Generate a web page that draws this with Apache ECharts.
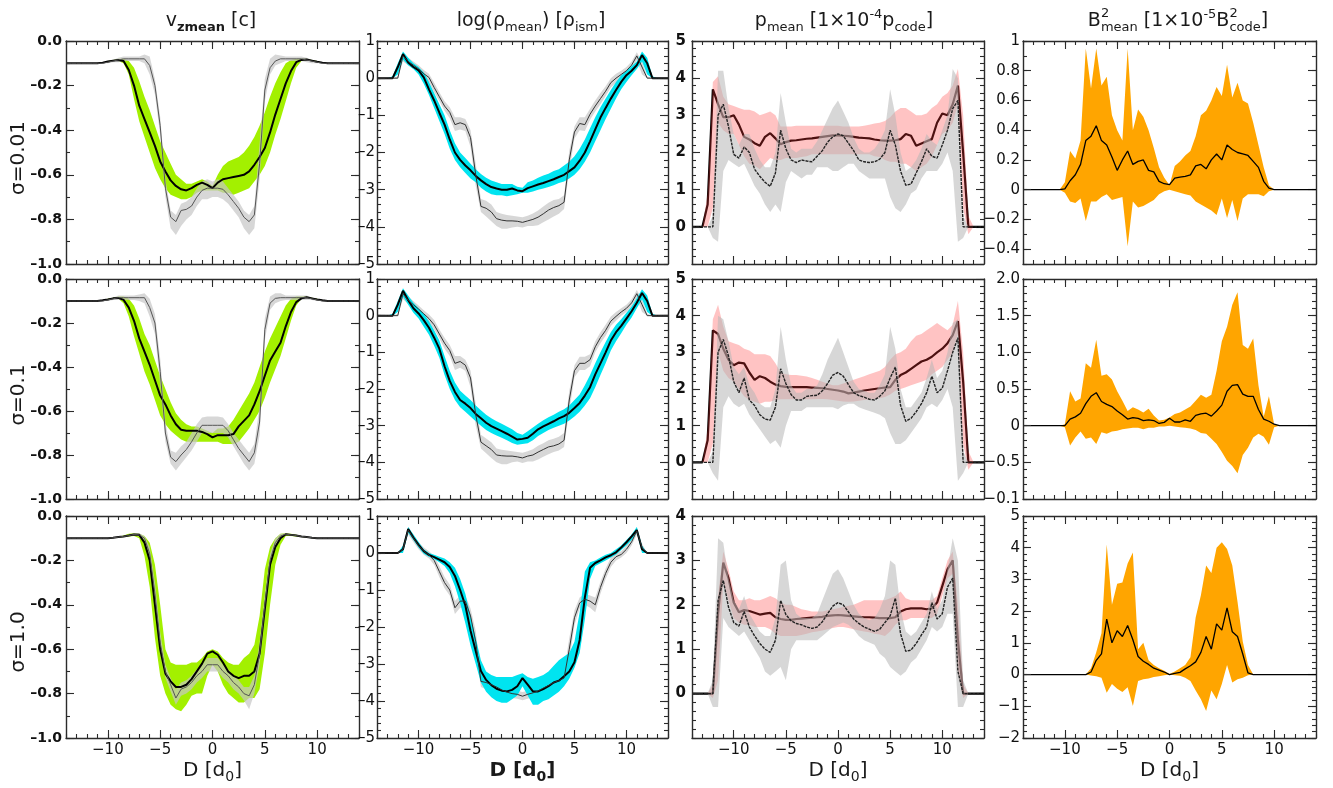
<!DOCTYPE html>
<html>
<head>
<meta charset="utf-8">
<script src="https://cdn.jsdelivr.net/npm/echarts@6/dist/echarts.min.js"></script>
<style>
html,body{margin:0;padding:0;background:#fff}
#chart{width:1333px;height:788px}
</style>
</head>
<body>
<div id="chart"></div>
<script>
// Distance along the profile, in units of d0
const D = [-14,-13.5,-13,-12.5,-12,-11.5,-11,-10.5,-10,-9.5,
  -9,-8.5,-8,-7.5,-7,-6.5,-6,-5.5,-5,-4.5,
  -4,-3.5,-3,-2.5,-2,-1.5,-1,-0.5,0,0.5,
  1,1.5,2,2.5,3,3.5,4,4.5,5,5.5,
  6,6.5,7,7.5,8,8.5,9,9.5,10,10.5,
  11,11.5,12,12.5,13,13.5,14];

// ---- v_zmean, sigma = 0.01 ----
const V1_MEAN = [-0.1,-0.1,-0.1,-0.1,-0.1,-0.1,-0.1,-0.097,-0.092,-0.088,
  -0.085,-0.09,-0.13,-0.2,-0.29,-0.35,-0.41,-0.47,-0.54,-0.585,
  -0.625,-0.65,-0.665,-0.67,-0.66,-0.645,-0.635,-0.645,-0.66,-0.635,
  -0.62,-0.615,-0.61,-0.605,-0.6,-0.585,-0.555,-0.52,-0.48,-0.41,
  -0.33,-0.26,-0.19,-0.135,-0.095,-0.085,-0.083,-0.088,-0.093,-0.097,
  -0.1,-0.1,-0.1,-0.1,-0.1,-0.1,-0.1];
const V1_HI = [-0.1,-0.1,-0.1,-0.1,-0.1,-0.1,-0.1,-0.097,-0.09,-0.085,
  -0.08,-0.08,-0.09,-0.12,-0.18,-0.25,-0.31,-0.38,-0.45,-0.5,
  -0.55,-0.6,-0.62,-0.64,-0.64,-0.63,-0.62,-0.63,-0.65,-0.6,
  -0.56,-0.54,-0.53,-0.52,-0.5,-0.47,-0.43,-0.38,-0.32,-0.25,
  -0.19,-0.14,-0.1,-0.085,-0.08,-0.08,-0.08,-0.085,-0.09,-0.097,
  -0.1,-0.1,-0.1,-0.1,-0.1,-0.1,-0.1];
const V1_LO = [-0.1,-0.1,-0.1,-0.1,-0.1,-0.1,-0.1,-0.098,-0.095,-0.09,
  -0.09,-0.1,-0.15,-0.26,-0.36,-0.43,-0.5,-0.57,-0.62,-0.66,
  -0.69,-0.7,-0.71,-0.71,-0.7,-0.68,-0.67,-0.67,-0.67,-0.67,
  -0.68,-0.68,-0.69,-0.68,-0.67,-0.66,-0.63,-0.6,-0.56,-0.5,
  -0.42,-0.35,-0.27,-0.19,-0.12,-0.09,-0.085,-0.09,-0.095,-0.098,
  -0.1,-0.1,-0.1,-0.1,-0.1,-0.1,-0.1];
const V1_GREY = [-0.1,-0.1,-0.1,-0.1,-0.1,-0.1,-0.1,-0.1,-0.095,-0.09,
  -0.085,-0.08,-0.08,-0.08,-0.08,-0.08,-0.11,-0.2,-0.38,-0.66,
  -0.79,-0.81,-0.76,-0.755,-0.74,-0.7,-0.67,-0.66,-0.66,-0.66,
  -0.665,-0.69,-0.72,-0.75,-0.79,-0.81,-0.78,-0.55,-0.22,-0.12,
  -0.09,-0.08,-0.08,-0.08,-0.08,-0.08,-0.085,-0.09,-0.095,-0.1,
  -0.1,-0.1,-0.1,-0.1,-0.1,-0.1,-0.1];
const V1_GHI = [-0.1,-0.1,-0.1,-0.1,-0.1,-0.1,-0.1,-0.1,-0.09,-0.085,
  -0.075,-0.07,-0.07,-0.07,-0.07,-0.06,-0.07,-0.17,-0.34,-0.62,
  -0.76,-0.78,-0.73,-0.72,-0.7,-0.66,-0.63,-0.62,-0.63,-0.62,
  -0.63,-0.66,-0.69,-0.72,-0.76,-0.78,-0.74,-0.46,-0.17,-0.08,
  -0.06,-0.065,-0.07,-0.07,-0.07,-0.07,-0.075,-0.085,-0.09,-0.1,
  -0.1,-0.1,-0.1,-0.1,-0.1,-0.1,-0.1];
const V1_GLO = [-0.1,-0.1,-0.1,-0.1,-0.1,-0.1,-0.1,-0.1,-0.1,-0.095,
  -0.095,-0.09,-0.09,-0.09,-0.09,-0.1,-0.15,-0.24,-0.42,-0.7,
  -0.84,-0.87,-0.83,-0.8,-0.78,-0.74,-0.71,-0.71,-0.7,-0.7,
  -0.71,-0.73,-0.76,-0.79,-0.84,-0.87,-0.84,-0.62,-0.27,-0.15,
  -0.11,-0.1,-0.09,-0.09,-0.09,-0.09,-0.095,-0.1,-0.1,-0.1,
  -0.1,-0.1,-0.1,-0.1,-0.1,-0.1,-0.1];

// ---- v_zmean, sigma = 0.1 ----
const V2_MEAN = [-0.1,-0.1,-0.1,-0.1,-0.1,-0.1,-0.1,-0.097,-0.093,-0.088,
  -0.086,-0.095,-0.13,-0.19,-0.27,-0.33,-0.39,-0.46,-0.53,-0.57,
  -0.62,-0.66,-0.685,-0.69,-0.69,-0.69,-0.695,-0.705,-0.72,-0.71,
  -0.71,-0.71,-0.705,-0.67,-0.645,-0.62,-0.57,-0.51,-0.44,-0.37,
  -0.33,-0.29,-0.215,-0.15,-0.105,-0.088,-0.083,-0.088,-0.093,-0.097,
  -0.1,-0.1,-0.1,-0.1,-0.1,-0.1,-0.1];
const V2_HI = [-0.1,-0.1,-0.1,-0.1,-0.1,-0.1,-0.1,-0.097,-0.09,-0.085,
  -0.08,-0.08,-0.09,-0.12,-0.18,-0.25,-0.3,-0.37,-0.44,-0.5,
  -0.56,-0.61,-0.64,-0.66,-0.67,-0.67,-0.68,-0.69,-0.7,-0.68,
  -0.68,-0.67,-0.64,-0.6,-0.56,-0.52,-0.47,-0.4,-0.33,-0.27,
  -0.22,-0.17,-0.12,-0.09,-0.08,-0.08,-0.08,-0.085,-0.09,-0.097,
  -0.1,-0.1,-0.1,-0.1,-0.1,-0.1,-0.1];
const V2_LO = [-0.1,-0.1,-0.1,-0.1,-0.1,-0.1,-0.1,-0.098,-0.095,-0.09,
  -0.09,-0.11,-0.17,-0.26,-0.34,-0.42,-0.48,-0.55,-0.62,-0.66,
  -0.69,-0.71,-0.73,-0.74,-0.74,-0.74,-0.74,-0.74,-0.74,-0.74,
  -0.75,-0.75,-0.75,-0.74,-0.71,-0.68,-0.64,-0.6,-0.54,-0.47,
  -0.41,-0.35,-0.27,-0.19,-0.12,-0.09,-0.085,-0.09,-0.095,-0.098,
  -0.1,-0.1,-0.1,-0.1,-0.1,-0.1,-0.1];
const V2_GREY = [-0.1,-0.1,-0.1,-0.1,-0.1,-0.1,-0.1,-0.1,-0.095,-0.09,
  -0.085,-0.085,-0.085,-0.085,-0.085,-0.085,-0.13,-0.2,-0.42,-0.7,
  -0.81,-0.83,-0.8,-0.775,-0.74,-0.7,-0.665,-0.665,-0.665,-0.665,
  -0.665,-0.69,-0.73,-0.77,-0.8,-0.83,-0.79,-0.65,-0.23,-0.11,
  -0.088,-0.085,-0.085,-0.085,-0.085,-0.085,-0.085,-0.09,-0.095,-0.1,
  -0.1,-0.1,-0.1,-0.1,-0.1,-0.1,-0.1];
const V2_GHI = [-0.1,-0.1,-0.1,-0.1,-0.1,-0.1,-0.1,-0.1,-0.09,-0.085,
  -0.075,-0.075,-0.075,-0.075,-0.07,-0.065,-0.09,-0.16,-0.36,-0.65,
  -0.78,-0.79,-0.76,-0.74,-0.7,-0.66,-0.63,-0.625,-0.625,-0.625,
  -0.63,-0.66,-0.7,-0.73,-0.76,-0.79,-0.75,-0.58,-0.18,-0.08,
  -0.065,-0.065,-0.075,-0.075,-0.075,-0.075,-0.075,-0.085,-0.09,-0.1,
  -0.1,-0.1,-0.1,-0.1,-0.1,-0.1,-0.1];
const V2_GLO = [-0.1,-0.1,-0.1,-0.1,-0.1,-0.1,-0.1,-0.1,-0.1,-0.095,
  -0.095,-0.095,-0.095,-0.095,-0.1,-0.11,-0.17,-0.25,-0.48,-0.74,
  -0.84,-0.87,-0.84,-0.81,-0.78,-0.74,-0.7,-0.7,-0.7,-0.7,
  -0.7,-0.72,-0.76,-0.8,-0.84,-0.87,-0.84,-0.71,-0.28,-0.14,
  -0.11,-0.1,-0.095,-0.095,-0.095,-0.095,-0.095,-0.095,-0.1,-0.1,
  -0.1,-0.1,-0.1,-0.1,-0.1,-0.1,-0.1];

// ---- v_zmean, sigma = 1.0 ----
const V3_MEAN = [-0.1,-0.1,-0.1,-0.1,-0.1,-0.1,-0.1,-0.1,-0.1,-0.098,
  -0.095,-0.092,-0.088,-0.083,-0.085,-0.12,-0.2,-0.4,-0.6,-0.71,
  -0.745,-0.77,-0.77,-0.76,-0.735,-0.7,-0.665,-0.62,-0.61,-0.625,
  -0.66,-0.7,-0.72,-0.73,-0.72,-0.72,-0.7,-0.62,-0.42,-0.22,
  -0.14,-0.1,-0.082,-0.085,-0.088,-0.092,-0.095,-0.098,-0.1,-0.1,
  -0.1,-0.1,-0.1,-0.1,-0.1,-0.1,-0.1];
const V3_HI = [-0.1,-0.1,-0.1,-0.1,-0.1,-0.1,-0.1,-0.1,-0.1,-0.098,
  -0.093,-0.088,-0.08,-0.078,-0.08,-0.09,-0.12,-0.22,-0.4,-0.6,
  -0.66,-0.67,-0.67,-0.67,-0.66,-0.66,-0.64,-0.61,-0.6,-0.61,
  -0.64,-0.66,-0.67,-0.67,-0.64,-0.62,-0.58,-0.45,-0.24,-0.14,
  -0.1,-0.08,-0.078,-0.08,-0.085,-0.09,-0.093,-0.098,-0.1,-0.1,
  -0.1,-0.1,-0.1,-0.1,-0.1,-0.1,-0.1];
const V3_LO = [-0.1,-0.1,-0.1,-0.1,-0.1,-0.1,-0.1,-0.1,-0.1,-0.099,
  -0.097,-0.095,-0.092,-0.09,-0.1,-0.18,-0.32,-0.55,-0.72,-0.8,
  -0.85,-0.87,-0.88,-0.85,-0.81,-0.8,-0.8,-0.72,-0.67,-0.7,
  -0.76,-0.8,-0.82,-0.84,-0.84,-0.82,-0.82,-0.78,-0.62,-0.4,
  -0.22,-0.13,-0.09,-0.09,-0.092,-0.095,-0.097,-0.099,-0.1,-0.1,
  -0.1,-0.1,-0.1,-0.1,-0.1,-0.1,-0.1];
const V3_GREY = [-0.1,-0.1,-0.1,-0.1,-0.1,-0.1,-0.1,-0.1,-0.1,-0.098,
  -0.095,-0.092,-0.088,-0.083,-0.085,-0.1,-0.17,-0.35,-0.57,-0.7,
  -0.76,-0.82,-0.78,-0.77,-0.75,-0.72,-0.7,-0.67,-0.67,-0.67,
  -0.7,-0.72,-0.75,-0.77,-0.8,-0.81,-0.76,-0.62,-0.4,-0.2,
  -0.12,-0.09,-0.082,-0.085,-0.088,-0.092,-0.095,-0.098,-0.1,-0.1,
  -0.1,-0.1,-0.1,-0.1,-0.1,-0.1,-0.1];
const V3_GHI = [-0.1,-0.1,-0.1,-0.1,-0.1,-0.1,-0.1,-0.1,-0.1,-0.098,
  -0.093,-0.09,-0.085,-0.078,-0.078,-0.09,-0.14,-0.3,-0.52,-0.67,
  -0.73,-0.78,-0.75,-0.74,-0.72,-0.69,-0.67,-0.64,-0.64,-0.64,
  -0.67,-0.69,-0.72,-0.74,-0.77,-0.77,-0.72,-0.57,-0.35,-0.17,
  -0.1,-0.08,-0.078,-0.082,-0.086,-0.09,-0.093,-0.098,-0.1,-0.1,
  -0.1,-0.1,-0.1,-0.1,-0.1,-0.1,-0.1];
const V3_GLO = [-0.1,-0.1,-0.1,-0.1,-0.1,-0.1,-0.1,-0.1,-0.1,-0.099,
  -0.097,-0.094,-0.09,-0.088,-0.092,-0.11,-0.2,-0.4,-0.62,-0.73,
  -0.79,-0.85,-0.81,-0.8,-0.78,-0.75,-0.73,-0.7,-0.7,-0.7,
  -0.73,-0.75,-0.78,-0.8,-0.83,-0.87,-0.8,-0.67,-0.45,-0.23,
  -0.14,-0.1,-0.086,-0.088,-0.09,-0.094,-0.097,-0.099,-0.1,-0.1,
  -0.1,-0.1,-0.1,-0.1,-0.1,-0.1,-0.1];

// ---- log(rho_mean), sigma = 0.01 ----
const R1_MEAN = [0,0,0,0,0.3,0.65,0.42,0.3,0.21,0.02,
  -0.3,-0.6,-0.93,-1.25,-1.65,-2.0,-2.2,-2.35,-2.48,-2.63,
  -2.75,-2.85,-2.93,-2.97,-3.0,-3.0,-2.97,-3.02,-3.04,-2.96,
  -2.91,-2.86,-2.82,-2.77,-2.72,-2.66,-2.6,-2.5,-2.4,-2.22,
  -2.0,-1.7,-1.38,-1.06,-0.8,-0.55,-0.32,-0.1,0.08,0.2,
  0.35,0.62,0.4,0,0,0,0];
const R1_HI = [0,0,0,0.05,0.4,0.72,0.55,0.4,0.3,0.15,
  -0.1,-0.4,-0.7,-1.0,-1.4,-1.75,-2.0,-2.15,-2.3,-2.45,
  -2.58,-2.68,-2.75,-2.8,-2.85,-2.85,-2.85,-2.92,-2.95,-2.8,
  -2.75,-2.68,-2.62,-2.57,-2.5,-2.45,-2.35,-2.25,-2.1,-1.9,
  -1.65,-1.35,-1.05,-0.78,-0.55,-0.32,-0.1,0.08,0.2,0.32,
  0.45,0.72,0.55,0.05,0,0,0];
const R1_LO = [0,0,0,0,0.1,0.5,0.35,0.25,0.1,-0.15,
  -0.45,-0.8,-1.15,-1.5,-1.9,-2.2,-2.4,-2.55,-2.7,-2.8,
  -2.95,-3.05,-3.12,-3.15,-3.15,-3.18,-3.15,-3.12,-3.08,-3.08,
  -3.05,-3.0,-2.97,-2.93,-2.88,-2.82,-2.78,-2.7,-2.6,-2.45,
  -2.25,-2.0,-1.7,-1.4,-1.1,-0.82,-0.55,-0.3,-0.1,0.08,
  0.25,0.45,0.1,0,0,0,0];
const R1_GREY = [0,0,0,0,0,0.6,0.45,0.35,0.25,0.12,
  0.02,-0.25,-0.5,-0.75,-0.92,-1.25,-1.2,-1.25,-1.6,-2.6,
  -3.45,-3.5,-3.6,-3.78,-3.82,-3.84,-3.84,-3.85,-3.88,-3.84,
  -3.8,-3.74,-3.65,-3.55,-3.48,-3.43,-3.34,-2.2,-1.45,-1.22,
  -1.25,-0.97,-0.75,-0.55,-0.35,-0.12,0.0,0.1,0.2,0.35,
  0.6,0.3,0,0,0,0,0];
const R1_GHI = [0,0,0,0,0.05,0.7,0.55,0.45,0.35,0.22,
  0.12,-0.12,-0.38,-0.62,-0.78,-1.05,-1.05,-1.1,-1.4,-2.3,
  -3.25,-3.3,-3.4,-3.6,-3.65,-3.68,-3.7,-3.72,-3.74,-3.7,
  -3.64,-3.56,-3.45,-3.35,-3.28,-3.25,-3.15,-1.95,-1.3,-1.05,
  -1.05,-0.82,-0.6,-0.4,-0.22,0.0,0.12,0.2,0.3,0.45,
  0.7,0.45,0.05,0,0,0,0];
const R1_GLO = [0,0,0,0,0,0.45,0.35,0.25,0.15,0.02,
  -0.1,-0.38,-0.62,-0.88,-1.08,-1.42,-1.38,-1.42,-1.85,-2.9,
  -3.6,-3.72,-3.85,-3.98,-4.05,-4.05,-4.02,-4.0,-4.02,-3.98,
  -3.98,-3.96,-3.88,-3.8,-3.72,-3.65,-3.52,-2.5,-1.62,-1.4,
  -1.42,-1.12,-0.9,-0.7,-0.48,-0.25,-0.12,0.0,0.1,0.25,
  0.48,0.1,0,0,0,0,0];

// ---- log(rho_mean), sigma = 0.1 ----
const R2_MEAN = [0,0,0,0,0.3,0.68,0.42,0.2,0.06,-0.12,
  -0.33,-0.6,-0.9,-1.38,-1.78,-2.08,-2.3,-2.4,-2.52,-2.68,
  -2.8,-2.92,-3.01,-3.08,-3.15,-3.22,-3.3,-3.38,-3.36,-3.33,
  -3.22,-3.1,-3.02,-2.95,-2.88,-2.8,-2.74,-2.65,-2.52,-2.38,
  -2.18,-1.95,-1.6,-1.3,-1.0,-0.68,-0.45,-0.28,-0.08,0.12,
  0.35,0.62,0.4,0,0,0,0];
const R2_HI = [0,0,0,0.05,0.4,0.75,0.55,0.35,0.2,0.05,
  -0.15,-0.4,-0.68,-1.1,-1.5,-1.82,-2.05,-2.18,-2.3,-2.45,
  -2.58,-2.7,-2.8,-2.88,-2.95,-3.02,-3.1,-3.2,-3.25,-3.15,
  -3.05,-2.95,-2.85,-2.77,-2.7,-2.62,-2.55,-2.45,-2.3,-2.15,
  -1.9,-1.62,-1.3,-1.0,-0.72,-0.45,-0.25,-0.1,0.08,0.25,
  0.48,0.72,0.55,0.05,0,0,0];
const R2_LO = [0,0,0,0,0.1,0.52,0.3,0.08,-0.08,-0.3,
  -0.52,-0.82,-1.15,-1.62,-2.0,-2.3,-2.5,-2.62,-2.75,-2.88,
  -3.0,-3.12,-3.2,-3.27,-3.33,-3.4,-3.47,-3.52,-3.5,-3.48,
  -3.4,-3.28,-3.2,-3.12,-3.06,-3.0,-2.95,-2.86,-2.75,-2.62,
  -2.45,-2.25,-1.95,-1.62,-1.3,-0.95,-0.7,-0.48,-0.25,-0.05,
  0.2,0.45,0.1,0,0,0,0];
const R2_GREY = [0,0,0,0,0,0.6,0.42,0.3,0.18,0.05,
  -0.08,-0.25,-0.5,-0.75,-0.95,-1.3,-1.25,-1.35,-1.7,-2.7,
  -3.45,-3.55,-3.65,-3.8,-3.82,-3.83,-3.83,-3.85,-3.88,-3.83,
  -3.8,-3.72,-3.65,-3.58,-3.55,-3.5,-3.4,-2.3,-1.5,-1.3,
  -1.3,-1.2,-0.85,-0.6,-0.4,-0.15,-0.02,0.1,0.2,0.35,
  0.6,0.3,0,0,0,0,0];
const R2_GHI = [0,0,0,0,0.05,0.7,0.52,0.4,0.28,0.15,
  0.03,-0.12,-0.38,-0.6,-0.8,-1.1,-1.1,-1.2,-1.5,-2.4,
  -3.25,-3.35,-3.45,-3.62,-3.66,-3.68,-3.7,-3.72,-3.74,-3.7,
  -3.64,-3.55,-3.48,-3.4,-3.36,-3.3,-3.2,-2.05,-1.35,-1.12,
  -1.12,-1.05,-0.7,-0.45,-0.25,-0.02,0.1,0.2,0.3,0.45,
  0.7,0.45,0.05,0,0,0,0];
const R2_GLO = [0,0,0,0,0,0.45,0.32,0.2,0.08,-0.05,
  -0.18,-0.38,-0.62,-0.9,-1.1,-1.48,-1.42,-1.5,-1.95,-3.0,
  -3.62,-3.75,-3.88,-4.0,-4.05,-4.05,-4.0,-3.98,-4.02,-3.98,
  -3.98,-3.92,-3.85,-3.78,-3.72,-3.68,-3.58,-2.6,-1.68,-1.48,
  -1.48,-1.38,-1.0,-0.75,-0.55,-0.28,-0.14,0.0,0.1,0.25,
  0.48,0.1,0,0,0,0,0];

// ---- log(rho_mean), sigma = 1.0 ----
const R3_MEAN = [0,0,0,0,0,0.1,0.65,0.42,0.22,0.05,
  -0.05,-0.11,-0.18,-0.25,-0.38,-0.62,-1.0,-1.42,-2.1,-2.65,
  -3.19,-3.43,-3.57,-3.67,-3.72,-3.74,-3.7,-3.6,-3.38,-3.56,
  -3.74,-3.74,-3.68,-3.6,-3.5,-3.45,-3.33,-3.2,-2.95,-2.35,
  -1.2,-0.4,-0.27,-0.2,-0.12,-0.06,0.02,0.15,0.29,0.45,
  0.62,0.1,0,0,0,0,0];
const R3_HI = [0,0,0,0,0,0.2,0.7,0.5,0.3,0.1,
  0,-0.05,-0.1,-0.15,-0.25,-0.4,-0.7,-1.1,-1.7,-2.3,
  -2.9,-3.2,-3.3,-3.35,-3.35,-3.35,-3.35,-3.3,-3.25,-3.35,
  -3.4,-3.35,-3.3,-3.2,-3.05,-2.9,-2.8,-2.7,-2.4,-1.6,
  -0.5,-0.25,-0.2,-0.12,-0.05,0,0.1,0.2,0.35,0.5,
  0.7,0.2,0,0,0,0,0];
const R3_LO = [0,0,0,0,0,0,0.55,0.35,0.15,-0.02,
  -0.1,-0.16,-0.25,-0.35,-0.55,-0.9,-1.35,-1.9,-2.5,-3.0,
  -3.5,-3.75,-3.9,-4.0,-4.05,-4.05,-3.95,-3.85,-3.6,-3.85,
  -4.1,-4.1,-4.0,-3.95,-3.85,-3.75,-3.6,-3.4,-3.1,-2.7,
  -1.8,-0.7,-0.35,-0.28,-0.2,-0.12,-0.04,0.08,0.2,0.35,
  0.55,0,0,0,0,0,0];
const R3_GREY = [0,0,0,0,0,0.1,0.62,0.4,0.2,0.05,
  -0.05,-0.2,-0.5,-0.8,-1.0,-1.48,-1.3,-1.3,-1.7,-2.4,
  -3.47,-3.5,-3.56,-3.62,-3.7,-3.76,-3.8,-3.82,-3.87,-3.82,
  -3.78,-3.73,-3.65,-3.58,-3.5,-3.45,-3.38,-2.6,-1.75,-1.35,
  -1.25,-1.3,-1.4,-0.93,-0.55,-0.25,-0.1,-0.04,0.1,0.3,
  0.6,0.15,0,0,0,0,0];
const R3_GHI = [0,0,0,0,0,0.15,0.7,0.5,0.3,0.15,
  0.05,-0.08,-0.35,-0.65,-0.85,-1.3,-1.15,-1.15,-1.5,-2.1,
  -3.3,-3.35,-3.42,-3.5,-3.58,-3.65,-3.7,-3.72,-3.76,-3.72,
  -3.66,-3.6,-3.52,-3.45,-3.36,-3.3,-3.2,-2.3,-1.55,-1.2,
  -1.1,-1.15,-1.2,-0.78,-0.42,-0.12,0.0,0.05,0.2,0.4,
  0.7,0.25,0,0,0,0,0];
const R3_GLO = [0,0,0,0,0,0.05,0.5,0.3,0.1,-0.05,
  -0.15,-0.32,-0.65,-0.95,-1.15,-1.65,-1.48,-1.48,-1.95,-2.7,
  -3.62,-3.68,-3.72,-3.76,-3.84,-3.9,-3.92,-3.94,-3.98,-3.94,
  -3.9,-3.86,-3.8,-3.72,-3.65,-3.6,-3.55,-2.9,-1.95,-1.5,
  -1.4,-1.48,-1.6,-1.1,-0.7,-0.38,-0.2,-0.12,0.0,0.2,
  0.5,0.05,0,0,0,0,0];

// ---- p_mean, sigma = 0.01 ----
const P1_MEAN = [0,0,0,0.6,3.7,3.3,2.95,2.95,3.0,2.75,
  2.42,2.35,2.25,2.18,2.42,2.52,2.38,2.22,2.28,2.32,
  2.33,2.35,2.37,2.38,2.4,2.42,2.44,2.46,2.46,2.45,
  2.44,2.42,2.4,2.39,2.38,2.35,2.33,2.32,2.32,2.33,
  2.36,2.5,2.45,2.18,2.24,2.3,2.36,2.8,3.05,3.0,
  3.3,3.8,2.0,0,0,0,0];
const P1_HI = [0,0,0,0.9,3.9,4.05,3.5,3.3,3.25,3.2,
  3.15,3.15,3.1,3.0,3.05,3.1,3.0,2.7,2.7,2.7,
  2.72,2.72,2.72,2.72,2.72,2.72,2.72,2.72,2.72,2.7,
  2.7,2.7,2.7,2.72,2.75,2.78,2.8,2.85,2.95,3.1,
  3.2,3.2,3.1,3.0,3.0,3.05,3.2,3.3,3.5,3.6,
  3.8,4.25,3.0,0.3,0,0,0];
const P1_LO = [0,0,0,0,0.5,2.8,2.6,2.5,2.5,2.2,
  1.9,1.7,1.65,1.55,1.7,1.85,1.8,1.8,1.85,1.85,
  1.85,1.88,1.9,1.95,1.95,1.95,1.95,1.95,1.95,1.95,
  1.95,1.95,1.95,1.95,1.95,1.9,1.88,1.8,1.75,1.75,
  1.7,1.7,1.6,1.5,1.6,1.7,1.9,2.2,2.5,2.6,
  2.8,3.3,0.5,-0.2,0,0,0];
const P1_GREY = [0,0,0,0,0,3.0,3.3,2.7,1.95,1.85,
  2.15,2.0,1.55,1.36,1.2,1.09,1.45,2.6,2.1,1.8,
  1.73,1.8,1.77,1.75,1.9,2.05,2.28,2.42,2.5,2.45,
  2.25,2.05,1.8,1.75,1.73,1.75,1.82,2.0,2.6,2.2,
  1.5,1.12,1.15,1.45,1.75,2.1,1.9,1.85,2.2,2.6,
  3.18,3.4,0,0,0,0,0];
const P1_GHI = [0,0,0,0,0.3,4.2,4.2,3.2,2.5,2.2,
  2.5,2.5,2.1,1.8,1.6,1.6,2.0,3.6,2.8,2.1,
  2.0,2.1,2.1,2.1,2.3,2.6,2.9,3.2,3.4,3.1,
  2.8,2.4,2.1,2.0,2.0,2.1,2.3,2.6,3.7,3.0,
  2.0,1.5,1.6,1.8,2.1,2.5,2.3,2.2,2.6,3.0,
  4.25,4.0,0.3,0,0,0,0];
const P1_GLO = [0,0,0,0,-0.3,-0.4,1.5,1.8,1.7,1.6,
  1.7,1.4,1.1,0.9,0.6,0.4,0.6,0.4,1.2,1.5,
  1.4,1.3,1.4,1.4,1.6,1.6,1.6,1.5,1.5,1.6,
  1.7,1.7,1.5,1.4,1.3,1.3,1.3,1.3,0.8,0.5,
  0.4,0.6,0.9,1.0,1.3,1.5,1.5,1.5,1.7,2.0,
  1.5,-0.4,-0.3,0,0,0,0];

// ---- p_mean, sigma = 0.1 ----
const P2_MEAN = [0,0,0,0.6,3.6,3.5,3.1,2.8,2.65,2.72,
  2.7,2.45,2.25,2.35,2.3,2.2,2.12,2.08,2.06,2.05,
  2.05,2.05,2.05,2.04,2.03,2.02,2.0,1.98,1.96,1.93,
  1.88,1.9,1.93,1.96,1.98,2.0,2.02,2.04,2.05,2.25,
  2.38,2.45,2.55,2.65,2.75,2.8,2.88,3.0,3.1,3.25,
  3.47,3.85,2.2,0,0,0,0];
const P2_HI = [0,0,0,0.9,3.9,4.3,3.7,3.3,3.25,3.2,
  3.1,3.05,2.95,2.95,2.95,2.9,2.7,2.45,2.4,2.38,
  2.38,2.36,2.34,2.3,2.25,2.2,2.15,2.1,2.1,2.15,
  2.2,2.25,2.3,2.35,2.4,2.45,2.5,2.6,2.8,2.95,
  3.0,3.1,3.3,3.45,3.5,3.6,3.7,3.8,3.7,3.6,
  3.75,4.4,3.0,0.3,0,0,0];
const P2_LO = [0,0,0,0,0.5,3.0,2.5,2.3,2.2,2.0,
  1.8,1.7,1.65,1.6,1.65,1.65,1.7,1.72,1.72,1.72,
  1.72,1.72,1.72,1.72,1.73,1.73,1.72,1.7,1.68,1.66,
  1.65,1.66,1.68,1.7,1.72,1.73,1.75,1.78,1.85,1.95,
  2.0,2.05,2.1,2.15,2.2,2.25,2.4,2.5,2.6,2.8,
  3.0,3.5,0.5,-0.2,0,0,0];
const P2_GREY = [0,0,0,0,0,3.0,3.35,2.9,2.2,1.9,
  2.3,1.7,1.55,1.3,1.18,1.15,1.5,2.55,2.15,1.85,
  1.7,1.7,1.8,1.82,1.83,1.95,2.15,2.38,2.45,2.35,
  2.12,1.9,1.82,1.78,1.72,1.7,1.8,1.95,2.3,2.6,
  1.55,1.12,1.2,1.38,1.6,1.9,2.35,1.9,2.02,2.5,
  3.0,3.4,0,0,0,0,0];
const P2_GHI = [0,0,0,0,0.3,4.0,3.9,3.3,2.6,2.4,
  2.6,2.1,1.9,1.6,1.5,1.5,2.0,3.7,2.8,2.1,
  1.9,1.9,2.0,2.0,2.1,2.4,2.8,3.1,3.4,3.0,
  2.6,2.2,2.0,1.95,1.9,1.9,2.1,2.4,3.7,3.1,
  2.0,1.5,1.5,1.7,1.9,2.3,2.8,2.3,2.5,3.0,
  3.8,3.9,0.3,0,0,0,0];
const P2_GLO = [0,0,0,0,-0.3,-0.5,1.5,1.8,1.6,1.5,
  1.6,1.3,1.1,0.9,0.7,0.5,0.6,0.4,1.0,1.4,
  1.4,1.4,1.5,1.5,1.5,1.5,1.5,1.5,1.45,1.55,
  1.6,1.6,1.5,1.45,1.4,1.35,1.3,1.2,0.8,0.5,
  0.5,0.6,0.8,1.0,1.2,1.5,1.6,1.5,1.7,2.0,
  1.5,-0.5,-0.3,0,0,0,0];

// ---- p_mean, sigma = 1.0 ----
const P3_MEAN = [0,0,0,0,0,1.8,2.95,2.6,2.05,1.83,
  1.88,1.86,1.82,1.78,1.8,1.82,1.72,1.68,1.66,1.66,
  1.68,1.69,1.7,1.71,1.72,1.73,1.75,1.76,1.77,1.76,
  1.75,1.74,1.73,1.72,1.72,1.71,1.7,1.7,1.7,1.72,
  1.85,1.9,1.92,1.92,1.92,1.9,1.92,2.05,2.42,2.8,
  3.0,1.2,0,0,0,0,0];
const P3_HI = [0,0,0,0,0.2,2.2,3.2,2.8,2.3,2.1,
  2.1,2.15,2.1,2.1,2.15,2.2,2.15,2.05,2.0,2.0,
  1.95,1.9,1.88,1.85,1.85,1.85,1.88,1.9,1.92,1.95,
  1.98,2.0,2.05,2.1,2.1,2.1,2.1,2.1,2.15,2.2,
  2.3,2.15,2.1,2.1,2.1,2.1,2.1,2.2,2.6,3.0,
  3.2,2.0,0.2,0,0,0,0];
const P3_LO = [0,0,0,0,-0.1,0.3,2.5,2.1,1.7,1.6,
  1.55,1.55,1.5,1.5,1.5,1.45,1.35,1.3,1.3,1.3,
  1.3,1.32,1.35,1.38,1.4,1.42,1.45,1.48,1.5,1.5,
  1.48,1.45,1.42,1.4,1.38,1.35,1.33,1.3,1.4,1.55,
  1.65,1.65,1.7,1.7,1.7,1.7,1.7,1.8,2.2,2.6,
  2.7,0.5,-0.1,0,0,0,0];
const P3_GREY = [0,0,0,0,0,2.1,2.55,1.95,1.6,1.52,
  1.85,1.5,1.3,1.13,1.0,0.93,1.2,2.1,1.78,1.64,
  1.58,1.55,1.5,1.47,1.5,1.62,1.8,1.97,2.05,2.0,
  1.84,1.68,1.58,1.5,1.45,1.4,1.45,1.6,1.75,2.15,
  1.35,0.95,0.98,1.13,1.32,1.5,2.05,1.68,1.8,2.4,
  2.6,0.5,0,0,0,0,0];
const P3_GHI = [0,0,0,0,0.3,3.5,3.4,2.6,2.1,1.9,
  2.2,1.8,1.6,1.4,1.3,1.3,1.7,2.9,3.0,2.1,
  1.8,1.7,1.7,1.7,1.8,2.1,2.4,2.7,2.8,2.6,
  2.3,2.0,1.8,1.7,1.65,1.7,1.9,2.2,3.0,2.9,
  1.9,1.4,1.3,1.4,1.6,1.8,2.3,1.9,2.1,2.8,
  3.5,3.0,0.3,0,0,0,0];
const P3_GLO = [0,0,0,0,-0.3,-0.3,1.7,1.5,1.4,1.3,
  1.4,1.2,1.0,0.8,0.5,0.4,0.5,0.6,0.3,1.0,
  1.2,1.2,1.2,1.2,1.2,1.3,1.4,1.5,1.55,1.6,
  1.55,1.45,1.3,1.2,1.15,1.1,0.9,0.8,0.6,0.5,
  0.4,0.5,0.7,0.8,1.0,1.2,1.5,1.4,1.5,1.8,
  1.8,-0.3,-0.3,0,0,0,0];

// ---- B^2_mean, sigma = 0.01 ----
const B1_MEAN = [0,0,0,0,0,0,0,0,0.005,0.06,
  0.1,0.17,0.33,0.36,0.43,0.33,0.3,0.22,0.13,0.2,
  0.26,0.17,0.19,0.2,0.13,0.12,0.056,0.04,0.034,0.078,
  0.085,0.09,0.1,0.16,0.17,0.14,0.2,0.24,0.2,0.3,
  0.27,0.25,0.24,0.23,0.19,0.15,0.056,0.01,0,0,
  0,0,0,0,0,0,0];
const B1_HI = [0,0,0,0,0,0,0,0,0.05,0.26,
  0.21,0.33,0.95,0.68,0.95,0.7,0.76,0.5,0.4,0.33,
  0.95,0.4,0.54,0.49,0.4,0.28,0.15,0.08,0.03,0.16,
  0.19,0.23,0.26,0.36,0.5,0.53,0.6,0.69,0.63,0.84,
  0.62,0.72,0.6,0.58,0.45,0.3,0.15,0.03,0,0,
  0,0,0,0,0,0,0];
const B1_LO = [0,0,0,0,0,0,0,0,-0.02,-0.08,
  -0.09,-0.06,-0.21,-0.08,-0.08,-0.05,-0.03,-0.07,-0.06,-0.05,
  -0.38,-0.08,-0.12,-0.11,-0.09,-0.07,-0.03,-0.01,0,-0.01,
  -0.02,-0.03,-0.04,-0.08,-0.1,-0.12,-0.14,-0.17,-0.06,-0.19,
  -0.07,-0.21,-0.06,-0.03,-0.03,-0.03,-0.045,-0.01,0,0,
  0,0,0,0,0,0,0];

// ---- B^2_mean, sigma = 0.1 ----
const B2_MEAN = [0,0,0,0,0,0,0,0,0,0.09,
  0.12,0.17,0.3,0.4,0.45,0.33,0.29,0.26,0.2,0.15,
  0.09,0.11,0.1,0.07,0.08,0.07,0.03,0.045,0.1,0.05,
  0.05,0.08,0.06,0.14,0.16,0.17,0.13,0.2,0.28,0.47,
  0.55,0.56,0.43,0.4,0.4,0.22,0.09,0.06,0.02,0,
  0,0,0,0,0,0,0];
const B2_HI = [0,0,0,0,0,0,0,0,0.02,0.47,
  0.33,0.37,0.85,0.79,1.17,0.68,0.7,0.63,0.47,0.34,
  0.2,0.25,0.22,0.18,0.23,0.14,0.07,0.08,0.11,0.16,
  0.18,0.22,0.26,0.34,0.42,0.38,0.42,0.75,1.15,1.35,
  1.65,1.82,1.1,1.05,1.19,0.55,0.12,0.4,0.02,0,
  0,0,0,0,0,0,0];
const B2_LO = [0,0,0,0,0,0,0,0,-0.02,-0.27,
  -0.16,-0.08,-0.18,-0.16,-0.25,-0.09,-0.11,-0.08,-0.07,-0.05,
  -0.04,-0.03,-0.03,-0.05,-0.03,-0.03,-0.01,-0.01,0,-0.01,
  -0.02,-0.03,-0.04,-0.06,-0.1,-0.11,-0.18,-0.25,-0.36,-0.48,
  -0.55,-0.65,-0.4,-0.3,-0.16,-0.11,-0.15,-0.26,-0.02,0,
  0,0,0,0,0,0,0];

// ---- B^2_mean, sigma = 1.0 ----
const B3_MEAN = [0,0,0,0,0,0,0,0,0,0,
  0,0,0,0.08,0.45,0.65,1.75,1.0,1.38,1.2,
  1.55,1.1,0.57,0.42,0.32,0.2,0.14,0.08,0,0.04,
  0.07,0.18,0.28,0.4,0.7,1.2,0.8,1.6,1.4,2.1,
  1.35,1.2,0.65,0.05,0,0,0,0,0,0,
  0,0,0,0,0,0,0];
const B3_HI = [0,0,0,0,0,0,0,0,0,0,
  0,0,0,0.2,0.7,1.3,4.1,2.2,2.86,2.9,
  3.5,3.85,0.8,1.0,0.45,0.3,0.2,0.12,0.02,0.1,
  0.2,0.3,0.55,1.8,2.5,3.44,3.2,4.0,4.17,3.96,
  3.44,2.3,1.04,0.3,0,0,0,0,0,0,
  0,0,0,0,0,0,0];
const B3_LO = [0,0,0,0,0,0,0,0,0,0,
  0,0,0,-0.03,-0.05,-0.1,-0.57,-0.3,-0.45,-0.55,
  -0.4,-0.99,-0.2,-0.15,-0.12,-0.08,-0.05,-0.02,0,-0.02,
  -0.04,-0.1,-0.2,-0.5,-0.78,-1.15,-0.5,-0.78,-0.3,0.3,
  -0.25,-0.15,-0.1,-0.02,0,0,0,0,0,0,
  0,0,0,0,0,0,0];

// ---- tick positions and tick labels ----
const X_TICKS = [-10, -5, 0, 5, 10];
const X_LABELS = ['\u221210', '\u22125', '0', '5', '10'];
const V_TICKS = [-1, -0.8, -0.6, -0.4, -0.2, 0];
const V_LABELS = ['\u20131.0', '\u20130.8', '\u20130.6', '\u20130.4', '\u20130.2', '0.0'];
const R_TICKS = [-5, -4, -3, -2, -1, 0, 1];
const R_LABELS = ['\u20135', '\u20134', '\u20133', '\u20132', '\u20131', '0', '1'];
const P_TICKS = [0, 1, 2, 3, 4, 5];
const P_LABELS = ['0', '1', '2', '3', '4', '5'];
const P3_TICKS = [0, 1, 2, 3, 4];
const P3_LABELS = ['0', '1', '2', '3', '4'];
const B1_TICKS = [-0.4, -0.2, 0, 0.2, 0.4, 0.6, 0.8, 1];
const B1_LABELS = ['\u22120.4', '\u22120.2', '0', '0.2', '0.4', '0.6', '0.8', '1'];
const B2_TICKS = [-1, -0.5, 0, 0.5, 1, 1.5, 2];
const B2_LABELS = ['\u22120.1', '\u22120.5', '0', '0.5', '1.0', '1.5', '2.0'];
const B3_TICKS = [-2, -1, 0, 1, 2, 3, 4, 5];
const B3_LABELS = ['\u22122', '\u22121', '0', '1', '2', '3', '4', '5'];

const ROW_NAMES = ['\u03c3=0.01', '\u03c3=0.1', '\u03c3=1.0'];

// ---- styling ----
const FONT = '"DejaVu Sans", sans-serif';
const GREEN = '#a3f000', CYAN = '#00e4f0', ORANGE = '#ffa500';
// pressure bands are translucent and sit over the mean line, tinting it
const PINK = 'rgba(255,55,55,0.3)';
const GREYBAND = 'rgba(198,198,198,0.7)';
const GREYBAND_P = 'rgba(182,182,182,0.55)';
const COL_X = [[66, 293], [377, 291], [692, 292], [1023, 293]];
const ROW_Y = [[41, 223], [279, 220], [516, 222]];
const COL_STYLE = [
  {lbBold: 'bold', lbSize: 14, lbMargin: 4, meanColor: '#000', meanWidth: 2, meanZ: 5, greyFill: GREYBAND, greyColor: '#555', greyWidth: 1, greyType: 'solid', greyZ: 3},
  {lbBold: 'normal', lbSize: 15, lbMargin: 2, meanColor: '#000', meanWidth: 2, meanZ: 5, greyFill: GREYBAND, greyColor: '#333', greyWidth: 1, greyType: 'solid', greyZ: 1},
  {lbBold: 'bold', lbSize: 15, lbMargin: 6, meanColor: '#000', meanWidth: 2.2, meanZ: 1, greyFill: GREYBAND_P, greyColor: '#222', greyWidth: 1.4, greyType: [3, 1], greyZ: 3},
  {lbBold: 'normal', lbSize: 15, lbMargin: 3, meanColor: '#000', meanWidth: 1.3, meanZ: 5}
];

const PANELS = [
  {r: 0, c: 0, y: [-1, 0], ticks: V_TICKS, labels: V_LABELS, minor: 0.1, band: [V1_LO, V1_HI], color: GREEN, mean: V1_MEAN, gband: [V1_GLO, V1_GHI], gline: V1_GREY},
  {r: 0, c: 1, y: [-5, 1], ticks: R_TICKS, labels: R_LABELS, minor: 0.2, band: [R1_LO, R1_HI], color: CYAN, mean: R1_MEAN, gband: [R1_GLO, R1_GHI], gline: R1_GREY},
  {r: 0, c: 2, y: [-1, 5], ticks: P_TICKS, labels: P_LABELS, minor: 0.2, band: [P1_LO, P1_HI], color: PINK, mean: P1_MEAN, gband: [P1_GLO, P1_GHI], gline: P1_GREY},
  {r: 0, c: 3, y: [-0.5, 1], ticks: B1_TICKS, labels: B1_LABELS, minor: 0.1, band: [B1_LO, B1_HI], color: ORANGE, mean: B1_MEAN},
  {r: 1, c: 0, y: [-1, 0], ticks: V_TICKS, labels: V_LABELS, minor: 0.1, band: [V2_LO, V2_HI], color: GREEN, mean: V2_MEAN, gband: [V2_GLO, V2_GHI], gline: V2_GREY},
  {r: 1, c: 1, y: [-5, 1], ticks: R_TICKS, labels: R_LABELS, minor: 0.2, band: [R2_LO, R2_HI], color: CYAN, mean: R2_MEAN, gband: [R2_GLO, R2_GHI], gline: R2_GREY},
  {r: 1, c: 2, y: [-1, 5], ticks: P_TICKS, labels: P_LABELS, minor: 0.2, band: [P2_LO, P2_HI], color: PINK, mean: P2_MEAN, gband: [P2_GLO, P2_GHI], gline: P2_GREY},
  {r: 1, c: 3, y: [-1, 2], ticks: B2_TICKS, labels: B2_LABELS, minor: 0.1, band: [B2_LO, B2_HI], color: ORANGE, mean: B2_MEAN},
  {r: 2, c: 0, y: [-1, 0], ticks: V_TICKS, labels: V_LABELS, minor: 0.1, band: [V3_LO, V3_HI], color: GREEN, mean: V3_MEAN, gband: [V3_GLO, V3_GHI], gline: V3_GREY},
  {r: 2, c: 1, y: [-5, 1], ticks: R_TICKS, labels: R_LABELS, minor: 0.2, band: [R3_LO, R3_HI], color: CYAN, mean: R3_MEAN, gband: [R3_GLO, R3_GHI], gline: R3_GREY},
  {r: 2, c: 2, y: [-1, 4], ticks: P3_TICKS, labels: P3_LABELS, minor: 0.2, band: [P3_LO, P3_HI], color: PINK, mean: P3_MEAN, gband: [P3_GLO, P3_GHI], gline: P3_GREY},
  {r: 2, c: 3, y: [-2, 5], ticks: B3_TICKS, labels: B3_LABELS, minor: 0.2, band: [B3_LO, B3_HI], color: ORANGE, mean: B3_MEAN}
];

function steps(a, b, s) {
  const out = [];
  for (let k = 0; a + k * s <= b + 1e-9; k++) out.push(+(a + k * s).toFixed(4));
  return out;
}
function lookup(vals, texts) {
  return v => {
    for (let i = 0; i < vals.length; i++) if (Math.abs(vals[i] - v) < 1e-6) return texts[i];
    return '';
  };
}

const grids = [], xAxes = [], yAxes = [], series = [];
const FRAME = {color: '#2b2b2b', width: 1.4};
const TICK = {color: '#2b2b2b', width: 1.1};
const X_MINOR = steps(-14, 14, 1);

PANELS.forEach((p, k) => {
  const st = COL_STYLE[p.c];
  const [gx, gw] = COL_X[p.c];
  const [gy, gh] = ROW_Y[p.r];
  grids.push({left: gx, top: gy, width: gw, height: gh, containLabel: false, outerBoundsMode: 'none'});

  const xb = {gridIndex: k, type: 'value', min: -14, max: 14, splitLine: {show: false}, axisPointer: {show: false}};
  const yb = {gridIndex: k, type: 'value', min: p.y[0], max: p.y[1], splitLine: {show: false}, axisPointer: {show: false}};
  const yMinor = steps(p.y[0], p.y[1], p.minor);

  ['bottom', 'top'].forEach((pos, j) => {
    xAxes.push(Object.assign({}, xb, {
      position: pos,
      axisLine: {show: true, onZero: false, lineStyle: FRAME},
      axisTick: {show: true, inside: true, length: 8, customValues: X_TICKS, lineStyle: TICK},
      axisLabel: {show: j === 0 && p.r === 2, customValues: X_TICKS, formatter: lookup(X_TICKS, X_LABELS),
        fontSize: 15, fontFamily: FONT, color: '#111', margin: 5}
    }));
    xAxes.push(Object.assign({}, xb, {
      position: pos,
      axisLine: {show: false, onZero: false},
      axisTick: {show: true, inside: true, length: 4, customValues: X_MINOR, lineStyle: TICK},
      axisLabel: {show: false}
    }));
  });
  ['left', 'right'].forEach((pos, j) => {
    yAxes.push(Object.assign({}, yb, {
      position: pos, z: j === 0 ? 8 : 0,
      axisLine: {show: true, onZero: false, lineStyle: FRAME},
      axisTick: {show: true, inside: true, length: 8, customValues: p.ticks, lineStyle: TICK},
      axisLabel: {show: j === 0, customValues: p.ticks, formatter: lookup(p.ticks, p.labels),
        fontSize: st.lbSize, fontWeight: st.lbBold, fontFamily: FONT, color: '#111', margin: st.lbMargin,
        hideOverlap: false}
    }));
    yAxes.push(Object.assign({}, yb, {
      position: pos,
      axisLine: {show: false, onZero: false},
      axisTick: {show: true, inside: true, length: 4, customValues: yMinor, lineStyle: TICK},
      axisLabel: {show: false}
    }));
  });

  const xi = 4 * k, yi = 4 * k;
  const band = (lo, hi, fill, z) => ({
    type: 'custom', xAxisIndex: xi, yAxisIndex: yi, z: z, silent: true, clip: true,
    data: [[D[0], lo[0]]],
    encode: {x: 0, y: 1},
    renderItem: function (params, api) {
      const pts = [];
      for (let i = 0; i < D.length; i++) pts.push(api.coord([D[i], hi[i]]));
      for (let i = D.length - 1; i >= 0; i--) pts.push(api.coord([D[i], lo[i]]));
      return {type: 'polygon', shape: {points: pts}, style: {fill: fill}};
    }
  });
  const line = (ys, color, width, type, z) => ({
    type: 'line', xAxisIndex: xi, yAxisIndex: yi, z: z, silent: true,
    data: D.map((x, i) => [x, ys[i]]), showSymbol: false, symbol: 'none',
    lineStyle: {color: color, width: width, type: type}, animation: false
  });

  series.push(band(p.band[0], p.band[1], p.color, 2));
  if (p.gband) series.push(band(p.gband[0], p.gband[1], st.greyFill, st.greyZ));
  series.push(line(p.mean, st.meanColor, st.meanWidth, 'solid', st.meanZ));
  if (p.gline) series.push(line(p.gline, st.greyColor, st.greyWidth, st.greyType, 6));
});

// ---- titles, row names and axis names (composite text with sub/superscripts) ----
const mctx = document.createElement('canvas').getContext('2d');
function composite(cx, base, segs, color) {
  let x = 0, px = 0, pw = 0;
  const placed = segs.map(sg => {
    mctx.font = (sg.b ? 'bold ' : '') + sg.s + 'px "DejaVu Sans"';
    const w = mctx.measureText(sg.t).width;
    let sx;
    if (sg.stack) { sx = px; pw = Math.max(pw, w); x = px + pw; }
    else { sx = x; px = x; pw = w; x += w; }
    return {sg: sg, sx: sx};
  });
  const total = x;
  return placed.map(({sg, sx}) => ({
    type: 'text', silent: true,
    x: cx - total / 2 + sx,
    y: base + (sg.dy || 0) - 0.32 * sg.s,
    style: {text: sg.t, fontSize: sg.s, fontFamily: FONT, fontWeight: sg.b ? 'bold' : 'normal',
      fill: color || '#1a1a1a', textAlign: 'left', textVerticalAlign: 'middle', verticalAlign: 'middle'}
  }));
}

const TS = 19, SS = 13;
const TITLES = [
  {cx: 211, segs: [{t: 'v', s: TS}, {t: 'zmean', s: SS, dy: 5, b: true}, {t: ' [c]', s: TS}]},
  {cx: 531, segs: [{t: 'log(\u03c1', s: TS}, {t: 'mean', s: SS, dy: 5}, {t: ') [\u03c1', s: TS}, {t: 'ism', s: SS, dy: 5}, {t: ']', s: TS}]},
  {cx: 844, segs: [{t: 'p', s: TS}, {t: 'mean', s: SS, dy: 5}, {t: ' [1\u00d710', s: TS}, {t: '-4', s: SS, dy: -8}, {t: 'p', s: TS}, {t: 'code', s: SS, dy: 5}, {t: ']', s: TS}]},
  {cx: 1178, segs: [{t: 'B', s: TS}, {t: '2', s: SS, dy: -9}, {t: 'mean', s: SS, dy: 5, stack: true}, {t: ' [1\u00d710', s: TS}, {t: '-5', s: SS, dy: -8}, {t: 'B', s: TS}, {t: '2', s: SS, dy: -9}, {t: 'code', s: SS, dy: 5, stack: true}, {t: ']', s: TS}]}
];

let elements = [];
TITLES.forEach(t => { elements = elements.concat(composite(t.cx, 27, t.segs)); });
COL_X.forEach(([gx, gw], c) => {
  const b = c === 1;
  elements = elements.concat(composite(gx + gw / 2, 777, [
    {t: 'D [d', s: 20, b: b}, {t: '0', s: 14, dy: 5, b: b}, {t: ']', s: 20, b: b}
  ]));
});
const ROW_CY = [158, 395, 642];
ROW_NAMES.forEach((name, r) => {
  elements.push({
    type: 'text', silent: true, x: 19, y: ROW_CY[r], rotation: Math.PI / 2,
    style: {text: name, fontSize: 20, fontFamily: FONT, fill: '#1a1a1a', textAlign: 'center',
      textVerticalAlign: 'middle', verticalAlign: 'middle'}
  });
});

const chart = echarts.init(document.getElementById('chart'), null, {renderer: 'canvas'});
chart.setOption({
  animation: false,
  backgroundColor: '#fff',
  grid: grids,
  xAxis: xAxes,
  yAxis: yAxes,
  series: series,
  graphic: {elements: elements}
});
</script>
</body>
</html>
